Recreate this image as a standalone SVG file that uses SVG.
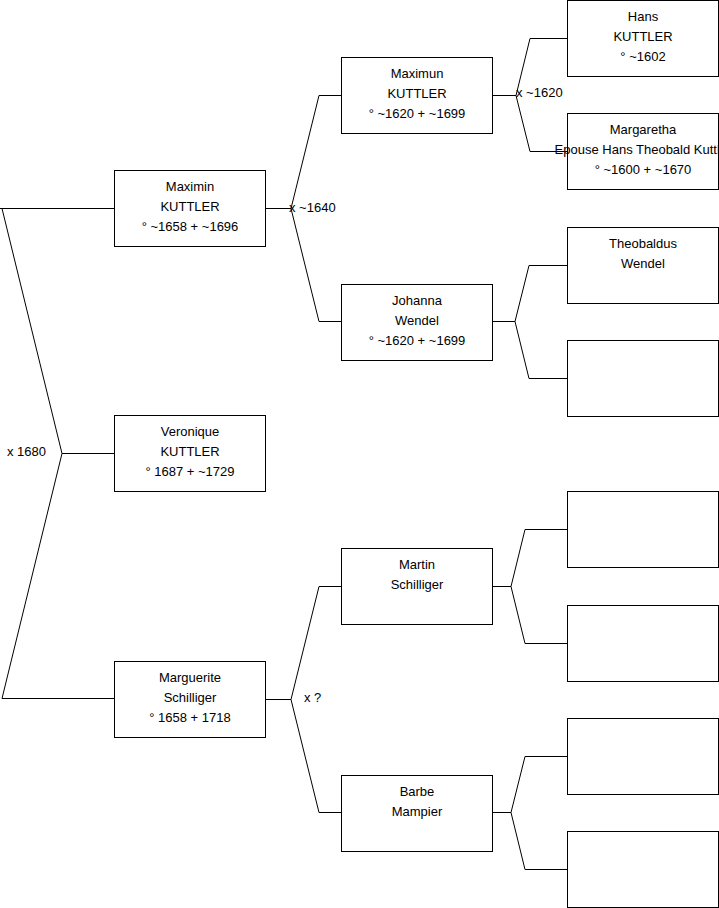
<svg xmlns="http://www.w3.org/2000/svg" width="719" height="908" viewBox="0 0 719 908">
<style>
.box{fill:#fff;stroke:#000;stroke-width:1}
.c{fill:none;stroke:#000;stroke-width:1}
text{font-family:"Liberation Sans",Arial,sans-serif;font-size:13px;fill:#000}
.m{text-anchor:middle}
</style>
<rect width="719" height="908" fill="#fff"/>
<g id="connectors">
<path class="c" d="M0,208.5 H114.5 M2,208.5 L62,453.5 L2,698.5 H114.5 M62,453.5 H114.5"/>
<path class="c" d="M265.5,208.5 H291 M319,95.5 L291,208.5 L319,321.5 M319,95.5 H341.5 M319,321.5 H341.5"/>
<path class="c" d="M265.5,699.5 H291 M319,586.5 L291,699.5 L319,812.5 M319,586.5 H341.5 M319,812.5 H341.5"/>
<path class="c" d="M492.5,95.5 H516 M530,38.5 L516,95.5 L530,151.5 M530,38.5 H567.5 M530,151.5 H567.5"/>
<path class="c" d="M492.5,321.5 H515 M529,265.5 L515,321.5 L529,378.5 M529,265.5 H567.5 M529,378.5 H567.5"/>
<path class="c" d="M492.5,586.5 H511 M525,529.5 L511,586.5 L525,643.5 M525,529.5 H567.5 M525,643.5 H567.5"/>
<path class="c" d="M492.5,812.5 H511 M525,756.5 L511,812.5 L525,869.5 M525,756.5 H567.5 M525,869.5 H567.5"/>
<text x="7" y="456">x 1680</text>
<text x="289" y="212">x ~1640</text>
<text x="304" y="702">x ?</text>
<text x="516" y="97">x ~1620</text>
</g>
<g id="maximin"><rect class="box" x="114.5" y="170.5" width="151" height="76"/>
<text class="m" x="190" y="191">Maximin</text><text class="m" x="190" y="211">KUTTLER</text><text class="m" x="190" y="231">° ~1658 + ~1696</text></g>
<g id="veronique"><rect class="box" x="114.5" y="415.5" width="151" height="76"/>
<text class="m" x="190" y="436">Veronique</text><text class="m" x="190" y="456">KUTTLER</text><text class="m" x="190" y="476">° 1687 + ~1729</text></g>
<g id="marguerite"><rect class="box" x="114.5" y="661.5" width="151" height="76"/>
<text class="m" x="190" y="682">Marguerite</text><text class="m" x="190" y="702">Schilliger</text><text class="m" x="190" y="722">° 1658 + 1718</text></g>
<g id="maximun"><rect class="box" x="341.5" y="57.5" width="151" height="76"/>
<text class="m" x="417" y="78">Maximun</text><text class="m" x="417" y="98">KUTTLER</text><text class="m" x="417" y="118">° ~1620 + ~1699</text></g>
<g id="johanna"><rect class="box" x="341.5" y="284.5" width="151" height="76"/>
<text class="m" x="417" y="305">Johanna</text><text class="m" x="417" y="325">Wendel</text><text class="m" x="417" y="345">° ~1620 + ~1699</text></g>
<g id="martin"><rect class="box" x="341.5" y="548.5" width="151" height="76"/>
<text class="m" x="417" y="569">Martin</text><text class="m" x="417" y="589">Schilliger</text></g>
<g id="barbe"><rect class="box" x="341.5" y="775.5" width="151" height="76"/>
<text class="m" x="417" y="796">Barbe</text><text class="m" x="417" y="816">Mampier</text></g>
<g id="hans"><rect class="box" x="567.5" y="0.5" width="151" height="76"/>
<text class="m" x="643" y="21">Hans</text><text class="m" x="643" y="41">KUTTLER</text><text class="m" x="643" y="61">° ~1602</text></g>
<g id="margaretha"><rect class="box" x="567.5" y="113.5" width="151" height="76"/>
<text class="m" x="643" y="134">Margaretha</text><text class="m" x="643" y="154">Epouse Hans Theobald Kuttler</text><text class="m" x="643" y="174">° ~1600 + ~1670</text></g>
<g id="theobaldus"><rect class="box" x="567.5" y="227.5" width="151" height="76"/>
<text class="m" x="643" y="248">Theobaldus</text><text class="m" x="643" y="268">Wendel</text></g>
<g id="empty1"><rect class="box" x="567.5" y="340.5" width="151" height="76"/></g>
<g id="empty2"><rect class="box" x="567.5" y="491.5" width="151" height="76"/></g>
<g id="empty3"><rect class="box" x="567.5" y="605.5" width="151" height="76"/></g>
<g id="empty4"><rect class="box" x="567.5" y="718.5" width="151" height="76"/></g>
<g id="empty5"><rect class="box" x="567.5" y="831.5" width="151" height="76"/></g>
</svg>
